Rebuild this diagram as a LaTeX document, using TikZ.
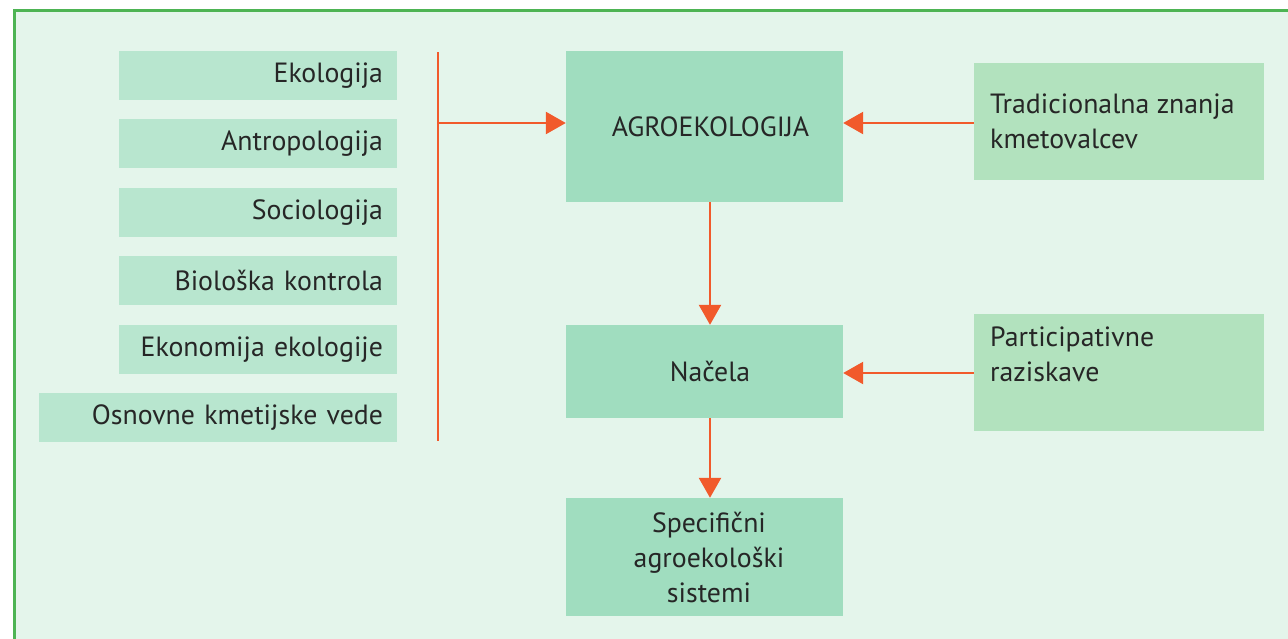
\documentclass[tikz,border=0pt]{standalone}
\usepackage{fontspec}
\setmainfont{PT Sans}
\usetikzlibrary{arrows.meta,calc}
\definecolor{bgc}{HTML}{E4F5EB}
\definecolor{framec}{HTML}{4DB453}
\definecolor{leftc}{HTML}{B8E6CF}
\definecolor{midc}{HTML}{A0DDBF}
\definecolor{rightc}{HTML}{B2E2BE}
\definecolor{arrc}{HTML}{F15A2B}
\definecolor{txtc}{HTML}{262626}
\tikzset{
  lbox/.style={fill=leftc, draw=none, minimum height=49pt, inner sep=0pt, text width=#1, align=right, text=txtc, font=\fontsize{27.8}{33}\selectfont},
  mbox/.style={fill=midc, draw=none, minimum width=277pt, inner sep=0pt, align=center, text=txtc, font=\fontsize{27.8}{35}\selectfont},
  rbox/.style={fill=rightc, draw=none, minimum width=290pt, minimum height=117pt, inner sep=0pt},
  rtext/.style={anchor=north west, align=left, inner sep=0pt, text=txtc, font=\fontsize{27.8}{35}\selectfont},
  arr/.style={draw=arrc, line width=2.5pt, -{Triangle[length=20pt,width=22pt]}},
  ln/.style={draw=arrc, line width=2.5pt}
}
\begin{document}
\begin{tikzpicture}[x=1pt,y=-1pt]
\useasboundingbox (0,0) rectangle (1288,638);
\fill[white] (0,0) rectangle (1288,638);
\begin{scope}
\clip (0,0) rectangle (1288,638);
\filldraw[fill=bgc, draw=framec, line width=3.2pt] (14.5,10.5) rectangle (1300,660);
\end{scope}
% left boxes
\node[lbox=250pt, minimum width=278pt] (eko) at (258,75.5) {Ekologija};
\node[lbox=250pt, minimum width=278pt] (ant) at (258,143.5) {Antropologija};
\node[lbox=250pt, minimum width=278pt] (soc) at (258,212.5) {Sociologija};
\node[lbox=250pt, minimum width=278pt] (bio) at (258,280.5) {Biološka kontrola};
\node[lbox=250pt, minimum width=278pt] (ekn) at (258,349.5) {Ekonomija ekologije};
\node[lbox=330pt, minimum width=358pt] (osn) at (218,417.5) {Osnovne kmetijske vede};
% middle boxes
\node[mbox, minimum height=151pt] (agro) at (704.5,126.5) {\hspace*{12pt}AGROEKOLOGIJA};
\node[mbox, minimum height=93pt] (nac) at (704.5,371.5) {\hspace*{11pt}Načela};
\node[mbox, minimum height=118pt] (spec) at (704.5,557) {\hspace*{9pt}Specifični\\\hspace*{9pt}agroekološki\\\hspace*{9pt}sistemi};
% right boxes
\node[rbox] (trad) at (1119,121.5) {};
\node[rtext] (tradt) at (990,94) {Tradicionalna znanja\\kmetovalcev};
\node[rbox] (part) at (1119,372.5) {};
\node[rtext] (partt) at (990,327) {Participativne\\raziskave};
% connectors
\coordinate (vtop) at (438,52);
\coordinate (vbot) at (438,441);
\coordinate (vmid) at (438,123);
\draw[ln] (vtop) -- (vbot);
\draw[arr] (vmid) -- (vmid -| agro.west);
\draw[arr] (trad.west |- vmid) -- (agro.east |- vmid);
\draw[arr] ([xshift=5.5pt]agro.south) -- ([xshift=5.5pt]nac.north);
\draw[arr] (part.west |- 0,373) -- (nac.east |- 0,373);
\draw[arr] ([xshift=5.5pt]nac.south) -- ([xshift=5.5pt]spec.north);
\end{tikzpicture}
\end{document}
